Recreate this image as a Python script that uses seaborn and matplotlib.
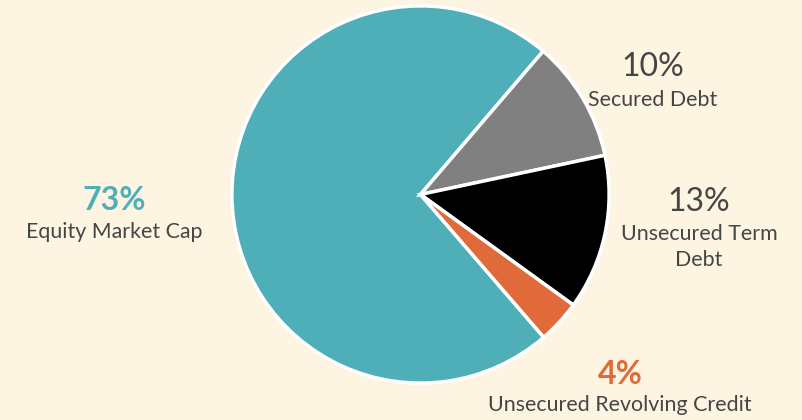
import matplotlib
matplotlib.use("Agg")
import matplotlib.pyplot as plt
import seaborn as sns

# slice data
categories = ["Equity Market Cap", "Secured Debt", "Unsecured Term\nDebt", "Unsecured Revolving Credit"]
shares = [72.6, 10.4, 13.3, 3.7]
pct_labels = ["73%", "10%", "13%", "4%"]
colors = ["#4FAFB9", "#808080", "#000000", "#E06A3A"]
pct_colors = ["#4FAFB9", "#454545", "#454545", "#E06A3A"]
pct_weights = ["bold", "normal", "normal", "bold"]

bg = "#FDF4E1"
sns.set_theme(style="white")
plt.rcParams['font.family'] = ['Lato', 'DejaVu Sans']

fig = plt.figure(figsize=(8.02, 4.2), dpi=100)
fig.patch.set_facecolor(bg)
ax = fig.add_axes([230 / 802, 35 / 420, 381 / 802, 381 / 420])
ax.set_facecolor(bg)

ax.pie(shares, colors=colors, startangle=-49.2, counterclock=False, radius=1,
       wedgeprops=dict(edgecolor="white", linewidth=2.5))
ax.set_xlim(-1.01, 1.01)
ax.set_ylim(-1.01, 1.01)
ax.set_aspect("equal")
ax.axis("off")

# label positions in figure pixels (pct, category)
spots = [((114, 200), (114, 232)),
         ((653, 67), (653, 100)),
         ((699, 202), (699, 247)),
         ((620, 374), (620, 405))]

for i, ((px, py), (cx, cy)) in enumerate(spots):
    fig.text(px / 802, 1 - py / 420, pct_labels[i], color=pct_colors[i], fontsize=23,
             fontweight=pct_weights[i], ha="center", va="center")
    fig.text(cx / 802, 1 - cy / 420, categories[i], color="#454545", fontsize=15.4,
             ha="center", va="center", linespacing=1.42)

fig.savefig("out.png", dpi=100, facecolor=bg)
